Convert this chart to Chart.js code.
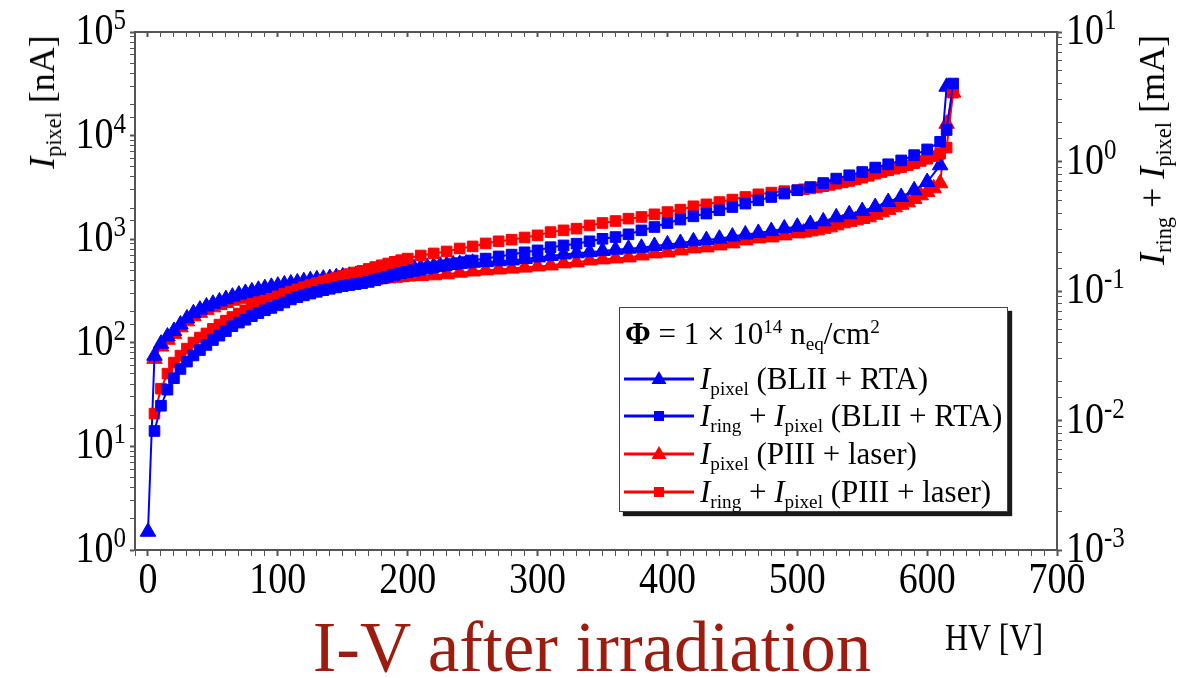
<!DOCTYPE html>
<html>
<head>
<meta charset="utf-8">
<script src="https://cdn.jsdelivr.net/npm/chart.js@4.4.0/dist/chart.umd.min.js"></script>
<style>
  html, body { margin: 0; padding: 0; background: #fff; overflow: hidden; }
  #wrap { position: relative; width: 1184px; height: 678px; font-family: "Liberation Serif", "Times New Roman", serif; color: #000; }
  #chart { position: absolute; left: 0; top: 0; }
  .lbl { position: absolute; white-space: nowrap; line-height: 1; }
  .sub { font-size: 0.62em; vertical-align: -0.3em; line-height: 0; }
  .sup { font-size: 0.62em; vertical-align: 0.55em; line-height: 0; }
  #yTitleL { left: 42px; top: 102px; font-size: 36px; transform: translate(-50%, -50%) rotate(-90deg); }
  #yTitleR { left: 1152px; top: 150px; font-size: 36px; transform: translate(-50%, -50%) rotate(-90deg); }
  #xTitle { left: 945px; top: 618px; font-size: 32px; transform: scaleY(1.2); transform-origin: left top; }
  #title { left: 0; width: 1184px; top: 607px; text-align: center; font-size: 71px; line-height: 80px; color: #9c1c10; }
  #legend { position: absolute; left: 619px; top: 307px; width: 387px; height: 203px; border: 1px solid #444; background: #fff; box-shadow: 4px 4px 1px #1a1a1a; font-size: 31px; }
  #legend .row { position: absolute; left: 3px; height: 36px; line-height: 36px; white-space: nowrap; }
  #legend .row svg { position: absolute; left: 0; top: 0; }
  #legend .row .txt { position: absolute; left: 77px; top: 0; }
</style>
</head>
<body>
<div id="wrap">
  <canvas id="chart" width="1184" height="678"></canvas>
  <div id="yTitleL" class="lbl"><i>I</i><span class="sub">pixel</span> [nA]</div>
  <div id="yTitleR" class="lbl"><i>I</i><span class="sub">ring</span> + <i>I</i><span class="sub">pixel</span> [mA]</div>
  <div id="xTitle" class="lbl">HV [V]</div>
  <div id="title" class="lbl">I-V after irradiation</div>
  <div id="legend">
    <div class="row" style="top: 8px;"><span class="txt" style="left: 2px;"><b>Φ</b> = 1 × 10<span class="sup">14</span> n<span class="sub">eq</span>/cm<span class="sup">2</span></span></div>
    <div class="row" style="top: 53px;">
      <svg width="74" height="36"><line x1="1" y1="18" x2="71" y2="18" stroke="#0000ff" stroke-width="3"/><polygon points="36,10 43.5,23 28.5,23" fill="#0000ff"/></svg>
      <span class="txt"><i>I</i><span class="sub">pixel</span> (BLII + RTA)</span>
    </div>
    <div class="row" style="top: 90px;">
      <svg width="74" height="36"><line x1="1" y1="18" x2="71" y2="18" stroke="#0000ff" stroke-width="3"/><rect x="31" y="13" width="10" height="10" fill="#0000ff"/></svg>
      <span class="txt"><i>I</i><span class="sub">ring</span> + <i>I</i><span class="sub">pixel</span> (BLII + RTA)</span>
    </div>
    <div class="row" style="top: 128px;">
      <svg width="74" height="36"><line x1="1" y1="18" x2="71" y2="18" stroke="#ff0000" stroke-width="3"/><polygon points="36,10 43.5,23 28.5,23" fill="#ff0000"/></svg>
      <span class="txt"><i>I</i><span class="sub">pixel</span> (PIII + laser)</span>
    </div>
    <div class="row" style="top: 166px;">
      <svg width="74" height="36"><line x1="1" y1="18" x2="71" y2="18" stroke="#ff0000" stroke-width="3"/><rect x="31" y="13" width="10" height="10" fill="#ff0000"/></svg>
      <span class="txt"><i>I</i><span class="sub">ring</span> + <i>I</i><span class="sub">pixel</span> (PIII + laser)</span>
    </div>
  </div>
</div>
<script>
// HV [V] points and currents
const hvBlueTri = [0, 5, 10, 15, 20, 25, 30, 35, 40, 45, 50, 55, 60, 65, 70, 75, 80, 85, 90, 95,
  100, 105, 110, 115, 120, 125, 130, 135, 140, 145, 150, 155, 160, 165, 170, 175, 180, 185, 190, 195,
  200, 205, 210, 215, 220, 225, 230, 235, 240, 245, 250,
  260, 270, 280, 290, 300, 310, 320, 330, 340, 350, 360, 370, 380, 390, 400, 410, 420, 430, 440,
  450, 460, 470, 480, 490, 500, 510, 520, 530, 540, 550, 560, 570, 580, 590, 600, 610, 615];
// I_pixel BLII + RTA [nA]
const pixelBlue = [1.5, 75, 98, 115, 130, 150, 172, 193, 209, 224, 238, 251, 264, 279, 292, 303, 314, 325, 337, 347,
  356, 366, 374, 383, 393, 402, 410, 416, 422, 430, 437, 444, 451, 458, 465, 472, 480, 488, 496, 505,
  515, 524, 532, 540, 548, 556, 563, 570, 577, 584, 592,
  600, 612, 624, 645, 667, 690, 713, 731, 750, 770, 791, 810, 828, 860, 891, 920, 953, 980, 1011,
  1060, 1110, 1150, 1197, 1270, 1320, 1400, 1486, 1625, 1740, 1870, 2045, 2285, 2555, 2966, 3565, 5170, 29600];

const hvBlueSq = [5, 10, 15, 20, 25, 30, 35, 40, 45, 50, 55, 60, 65, 70, 75, 80, 85, 90, 95,
  100, 105, 110, 115, 120, 125, 130, 135, 140, 145, 150, 155, 160, 165, 170, 175, 180, 185, 190, 195,
  200, 205, 210, 215, 220, 225, 230, 235, 240, 245, 250,
  260, 270, 280, 290, 300, 310, 320, 330, 340, 350, 360, 370, 380, 390, 400, 410, 420, 430, 440,
  450, 460, 470, 480, 490, 500, 510, 520, 530, 540, 550, 560, 570, 580, 590, 600, 610, 615, 620];
// I_ring + I_pixel BLII + RTA [mA]
const ringBlue = [0.0083, 0.0130, 0.0173, 0.0212, 0.0250, 0.0285, 0.0318, 0.0350, 0.0383, 0.0418, 0.0452, 0.0490, 0.0535, 0.0570, 0.0600, 0.0640, 0.0675, 0.0710, 0.0740,
  0.0775, 0.0815, 0.0860, 0.0895, 0.0925, 0.0955, 0.0985, 0.1015, 0.1040, 0.1065, 0.1090, 0.1110, 0.1130, 0.1150, 0.1175, 0.1210, 0.1250, 0.1290, 0.1330, 0.1370,
  0.1400, 0.1430, 0.1460, 0.1490, 0.1520, 0.1550, 0.1580, 0.1610, 0.1640, 0.1670, 0.1720,
  0.178, 0.185, 0.191, 0.199, 0.206, 0.218, 0.225, 0.232, 0.242, 0.253, 0.261, 0.274, 0.294, 0.312, 0.335, 0.356, 0.377, 0.396, 0.420,
  0.445, 0.473, 0.501, 0.532, 0.565, 0.600, 0.635, 0.682, 0.738, 0.783, 0.830, 0.898, 0.952, 1.02, 1.12, 1.24, 1.42, 1.75, 4.0];

const hvRed = [5, 10, 15, 20, 25, 30, 35, 40, 45, 50, 55, 60, 65, 70, 75, 80, 85, 90, 95, 100,
  105, 110, 115, 120, 125, 130, 135, 140, 145, 150, 155, 160, 165, 170, 175, 180, 185, 190, 195, 200,
  210, 220, 230, 240, 250, 260, 270, 280, 290, 300, 310, 320, 330, 340, 350, 360, 370, 380, 390, 400,
  410, 420, 430, 440, 450, 460, 470, 480, 490, 500,
  505, 510, 515, 520, 525, 530, 535, 540, 545, 550, 555, 560, 565, 570, 575, 580, 585, 590, 595, 600,
  605, 610, 615, 620];
// I_pixel PIII + laser [nA]
const pixelRed = [70, 92, 107, 122, 141, 161, 180, 195, 208, 220, 231, 242, 255, 266, 275, 284, 293, 303, 311, 318,
  326, 333, 340, 347, 354, 360, 365, 370, 376, 381, 386, 391, 397, 402, 407, 413, 418, 424, 430, 436,
  440, 448, 458, 475, 488, 500, 510, 520, 532, 546, 558, 584, 597, 624, 638, 652, 667, 697, 729, 745,
  779, 815, 833, 871, 911, 973, 1018, 1041, 1088, 1138,
  1160, 1190, 1217, 1260, 1301, 1360, 1422, 1470, 1521, 1570, 1626, 1720, 1816, 1920, 2030, 2150, 2269, 2450, 2653, 2850,
  3099, 3465, 13000, 26000];
// I_ring + I_pixel PIII + laser [mA]
const ringRed = [0.0113, 0.0176, 0.0230, 0.0280, 0.0317, 0.0359, 0.0400, 0.0437, 0.047, 0.051, 0.055, 0.059, 0.063, 0.067, 0.071, 0.075, 0.079, 0.083, 0.087, 0.091,
  0.095, 0.099, 0.103, 0.107, 0.111, 0.115, 0.119, 0.123, 0.127, 0.131, 0.135, 0.139, 0.143, 0.148, 0.153, 0.158, 0.163, 0.168, 0.173, 0.178,
  0.188, 0.195, 0.202, 0.213, 0.221, 0.233, 0.242, 0.249, 0.259, 0.269, 0.285, 0.294, 0.303, 0.321, 0.335, 0.347, 0.362, 0.373, 0.391, 0.407,
  0.425, 0.451, 0.467, 0.486, 0.508, 0.532, 0.558, 0.575, 0.590, 0.600,
  0.610, 0.620, 0.630, 0.645, 0.660, 0.675, 0.690, 0.707, 0.728, 0.750, 0.775, 0.805, 0.830, 0.855, 0.880, 0.905, 0.935, 0.970, 1.01, 1.05,
  1.10, 1.15, 1.28, 3.4];

const xTickLabels = [0, 100, 200, 300, 400, 500, 600, 700];
const leftExps = [0, 1, 2, 3, 4, 5];
const rightExps = [-3, -2, -1, 0, 1];

const BLUE = '#0000ff';
const RED = '#ff0000';
const AXIS = '#555555';
const SERIF = '"Liberation Serif", "Times New Roman", serif';
const STRETCH = 1.18;

function pairs(xs, ys) {
  return xs.map((v, i) => ({ x: v, y: ys[i] }));
}

function series(label, xs, ys, color, style, axis, order) {
  return {
    label: label,
    data: pairs(xs, ys),
    yAxisID: axis,
    order: order,
    showLine: true,
    borderColor: color,
    backgroundColor: color,
    borderWidth: 2,
    pointStyle: style,
    pointRadius: style === 'triangle' ? 9 : 7.5,
    pointBorderWidth: 1,
    pointBorderColor: color,
    pointBackgroundColor: color,
    tension: 0
  };
}

function stretchedText(ctx, text, x, y, size, align) {
  ctx.save();
  ctx.translate(x, y);
  ctx.scale(1, STRETCH);
  ctx.font = size + 'px ' + SERIF;
  ctx.textAlign = align;
  ctx.textBaseline = 'alphabetic';
  ctx.fillText(text, 0, 0);
  ctx.restore();
}

// tick labels with superscript exponents
const tickText = {
  id: 'tickText',
  afterDraw(chart) {
    const ctx = chart.ctx;
    const sx = chart.scales.x, sl = chart.scales.y, sr = chart.scales.y2;
    ctx.save();
    ctx.fillStyle = '#000';
    xTickLabels.forEach(v => stretchedText(ctx, String(v), sx.getPixelForValue(v), 593, 38, 'center'));
    leftExps.forEach(e => {
      const py = sl.getPixelForValue(Math.pow(10, e));
      ctx.font = '25px ' + SERIF;
      const w = ctx.measureText(String(e)).width;
      stretchedText(ctx, '10', 126 - w, py + 12, 38, 'right');
      stretchedText(ctx, String(e), 126, py - 3, 25, 'right');
    });
    rightExps.forEach(e => {
      const py = sr.getPixelForValue(Math.pow(10, e));
      ctx.font = '38px ' + SERIF;
      const w = ctx.measureText('10').width;
      stretchedText(ctx, '10', 1066, py + 12, 38, 'left');
      stretchedText(ctx, String(e), 1066 + w, py - 3, 25, 'left');
    });
    ctx.restore();
  }
};

function axisGrid(length) {
  return {
    drawOnChartArea: false,
    drawTicks: true,
    tickLength: length,
    tickColor: AXIS,
    tickWidth: ctx => (ctx.tick && ctx.tick.major) ? 2 : 1
  };
}

new Chart(document.getElementById('chart'), {
  type: 'scatter',
  data: {
    datasets: [
      series('I_ring + I_pixel (BLII + RTA)', hvBlueSq, ringBlue, BLUE, 'rect', 'y2', 1),
      series('I_ring + I_pixel (PIII + laser)', hvRed, ringRed, RED, 'rect', 'y2', 2),
      series('I_pixel (BLII + RTA)', hvBlueTri, pixelBlue, BLUE, 'triangle', 'y', 3),
      series('I_pixel (PIII + laser)', hvRed, pixelRed, RED, 'triangle', 'y', 4)
    ]
  },
  options: {
    responsive: false,
    animation: false,
    devicePixelRatio: 1,
    layout: { padding: 0 },
    plugins: { legend: { display: false }, tooltip: { enabled: false } },
    scales: {
      x: {
        type: 'linear', position: 'bottom', min: -10, max: 700,
        ticks: { display: false, stepSize: 10, autoSkip: false },
        grid: Object.assign(axisGrid(6), { tickWidth: ctx => (ctx.tick && ctx.tick.value % 100 === 0) ? 2 : 1 }),
        border: { color: AXIS, width: 2 },
        afterFit: s => { s.height = 128; }
      },
      x2: {
        type: 'linear', position: 'top', min: -10, max: 700,
        ticks: { display: false, stepSize: 10, autoSkip: false },
        grid: Object.assign(axisGrid(-5), { tickWidth: ctx => (ctx.tick && ctx.tick.value % 100 === 0) ? 2 : 1 }),
        border: { color: AXIS, width: 2 },
        afterFit: s => { s.height = 32; }
      },
      y: {
        type: 'logarithmic', position: 'left', min: 1, max: 100000,
        ticks: { display: false },
        grid: axisGrid(5),
        border: { color: AXIS, width: 2 },
        afterFit: s => { s.width = 135; }
      },
      y2: {
        type: 'logarithmic', position: 'right', min: 0.001, max: 10,
        ticks: { display: false },
        grid: axisGrid(5),
        border: { color: AXIS, width: 2 },
        afterFit: s => { s.width = 127; }
      }
    }
  },
  plugins: [tickText]
});
</script>
</body>
</html>
